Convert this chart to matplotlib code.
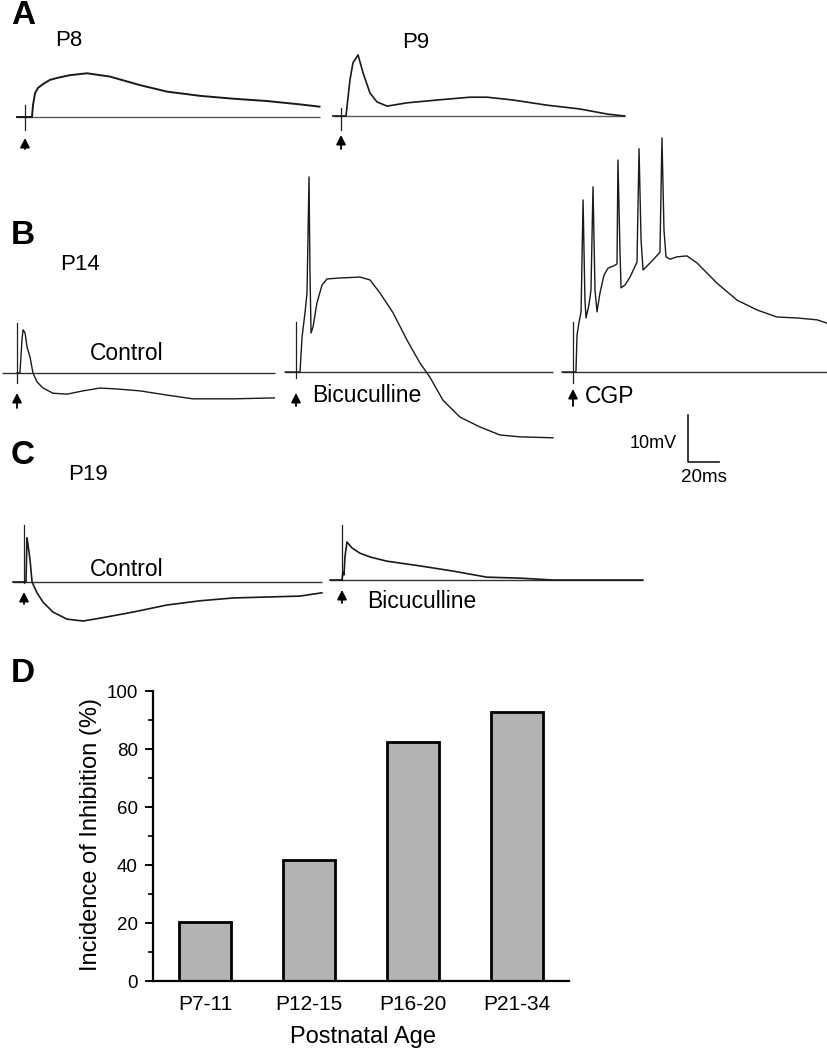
import numpy as np
import matplotlib
matplotlib.use("Agg")
import matplotlib.pyplot as plt
from matplotlib.ticker import MultipleLocator

plt.rcParams['font.family'] = ['Liberation Sans', 'DejaVu Sans']

# ---------------- data ----------------
# Traces: time (ms after stimulus) and potential (mV relative to rest)
p8_t = [-5.2, 0, 4.5, 5.2, 6.5, 8.4, 11.6, 16.1, 20.6, 29.0, 40.0, 54.8, 74.0, 91.6, 113, 134, 156, 177, 190]
p8_v = [0, 0, 0, 2.6, 5.1, 6.2, 7.0, 7.9, 8.3, 8.9, 9.3, 8.6, 6.8, 5.4, 4.5, 3.9, 3.4, 2.7, 2.2]

p9_t = [-5.2, 0, 3.2, 5.8, 7.7, 11.0, 14.2, 18.7, 23.2, 29.7, 42.6, 61.9, 83.2, 94.2, 111, 133, 154, 172, 183]
p9_v = [0, 0, 0, 7.7, 11.3, 13.0, 9.2, 4.9, 3.0, 2.1, 2.8, 3.4, 4.0, 4.0, 3.4, 2.3, 1.5, 0.4, 0]

p14_ctrl_t = [0, 1.9, 3.2, 3.9, 5.2, 6.5, 8.4, 10.3, 12.9, 16.8, 23.2, 32.3, 42.6, 53.5, 64.5, 79.3, 96.8, 113.5, 139, 166]
p14_ctrl_v = [0, 0, 7.0, 9.2, 8.5, 5.5, 3.4, 0, -1.9, -3.2, -4.3, -4.5, -3.8, -3.2, -3.4, -3.8, -4.7, -5.5, -5.5, -5.3]

p14_bic_t = [-7.1, 0, 2.6, 3.9, 5.8, 7.1, 8.4, 9.0, 9.7, 11.0, 13.5, 16.8, 20.0, 28.4, 41.3, 47.7, 54.2,
             62.6, 71.6, 80.0, 86.4, 94.8, 105.8, 118.7, 131.6, 144.5, 165.8]
p14_bic_v = [0, 0, 0, 7.4, 12.6, 16.8, 41.5, 21.7, 8.3, 9.6, 14.7, 18.5, 19.8, 20.0, 20.2, 19.6, 16.8,
             12.6, 6.8, 1.9, -1.1, -6.0, -9.6, -11.7, -13.4, -13.8, -14.0]

p14_cgp_t = [-7.1, 0, 1.9, 2.6, 3.9, 5.2, 6.5, 7.7, 8.4, 10.3, 11.6, 12.9, 14.2, 15.5, 17.4, 20.0, 22.6,
             26.4, 28.4, 29.0, 30.3, 31.0, 33.5, 36.8, 41.3, 42.6, 43.9, 45.2, 49.7, 52.9, 56.1, 57.4,
             58.7, 60.0, 62.6, 67.1, 73.5, 80.0, 92.9, 105.8, 118.7, 131.6, 144.5, 157.4, 163.8]
p14_cgp_v = [0, 0, 0, 7.9, 10.6, 12.8, 36.6, 15.3, 11.5, 14.3, 17.4, 39.4, 17.4, 12.8, 16.8, 20.6, 22.1,
             22.6, 23.0, 45.1, 25.9, 17.9, 18.5, 20.2, 23.4, 47.5, 28.1, 21.7, 23.2, 24.3, 25.5, 49.8,
             30.2, 24.5, 24.0, 24.5, 24.7, 23.2, 18.9, 15.3, 13.2, 11.7, 11.5, 11.1, 10.4]

p19_ctrl_t = [-7.1, 0, 1.3, 1.9, 2.6, 3.9, 5.2, 8.4, 12.3, 18.7, 27.7, 38.1, 49.0, 70.3, 92.2, 113.5,
              134.8, 156.1, 178, 192.2]
p19_ctrl_v = [0, 0, 0, 9.4, 7.9, 4.7, 0, -2.3, -4.3, -6.4, -7.9, -8.3, -7.7, -6.4, -4.9, -4.0,
              -3.4, -3.2, -3.0, -2.3]

p19_bic_t = [-7.7, 0, 0.6, 1.3, 1.9, 3.2, 6.5, 11.6, 18.1, 29.0, 50.3, 71.6, 93.5, 114.8, 136, 194]
p19_bic_v = [0, 0, 1.7, 1.1, 4.9, 8.1, 6.8, 5.7, 4.9, 4.0, 3.0, 1.9, 0.6, 0.4, 0, 0]

# stimulus artifacts (top, bottom) in mV
artifacts = [(2.6, -2.8), (1.7, -3.0), (10.6, -2.1), (10.6, -1.3), (10.6, -2.3), (12.1, -0.3), (11.7, 0.0)]
# baseline extents (ms)
baselines = [(-5.2, 190), (-5.2, 183), (-9.7, 166.4), (-7.1, 165.8), (-7.1, 163.8), (-7.1, 192.2), (-7.7, 194)]

scale_mv = 10
scale_ms = 20

ages = ['P7-11', 'P12-15', 'P16-20', 'P21-34']
incidence = [20.5, 41.7, 82.5, 92.8]

# ---------------- layout ----------------
W, H = 827, 1050
MS_PER_PX = 20 / 31
MV_PER_PX = 10 / 47

fig = plt.figure(figsize=(W / 100, H / 100), dpi=100)
fig.patch.set_facecolor('white')

ax = fig.add_axes([0, 0, 1, 1])
ax.set_xlim(0, W * MS_PER_PX)
ax.set_ylim(0, H * MV_PER_PX)
ax.axis('off')


def org(xp, yp):
    return xp * MS_PER_PX, (H - yp) * MV_PER_PX


traces = [(p8_t, p8_v), (p9_t, p9_v), (p14_ctrl_t, p14_ctrl_v), (p14_bic_t, p14_bic_v),
          (p14_cgp_t, p14_cgp_v), (p19_ctrl_t, p19_ctrl_v), (p19_bic_t, p19_bic_v)]
origins = [(25, 117), (341, 116), (17, 373), (296, 372), (573, 372), (24, 582), (342, 580)]
arrows = [(138, 149), (135, 149), (393, 408), (393, 406), (389, 406), (592, 604), (590, 603)]
lws = [1.4, 1.2, 1.0, 1.0, 1.0, 1.2, 1.2]
base_cols = ['#5a5a5a', '#5a5a5a', '#333333', '#333333', '#333333', '#333333', '#333333']

for (t, v), (xp, yp), (a_top, a_bot), (b0, b1), (tip, tail), lw, bc in zip(
        traces, origins, artifacts, baselines, arrows, lws, base_cols):
    ox, oy = org(xp, yp)
    ax.plot([ox + b0, ox + b1], [oy, oy], color=bc, lw=1.0, solid_capstyle='butt')
    ax.plot([ox, ox], [oy + a_bot, oy + a_top], color='#222222', lw=0.9)
    ax.plot(ox + np.array(t), oy + np.array(v), color='#1a1a1a', lw=lw, solid_joinstyle='round')
    _, ytip = org(xp, tip)
    _, ytail = org(xp, tail)
    ax.annotate('', xy=(ox, ytip), xytext=(ox, ytail),
                arrowprops=dict(arrowstyle='-|>,head_length=0.55,head_width=0.28', color='k', lw=1.3,
                                shrinkA=0, shrinkB=0))

# scale bar
sx, sy = org(688, 462)
ax.plot([sx, sx, sx + scale_ms], [sy + scale_mv, sy, sy], color='#1a1a1a', lw=1.2)


def ftext(xp, yp, s, size, **kw):
    fig.text(xp / W, 1 - yp / H, s, fontsize=size, **kw)


ftext(677, 443, '10mV', 13, ha='right', va='center')
ftext(704, 478, '20ms', 13.5, ha='center', va='center')

# panel letters
for letter, yp in [('A', 15), ('B', 235), ('C', 455), ('D', 673)]:
    ftext(11, yp, letter, 24, weight='bold', ha='left', va='center')

ftext(55, 41, 'P8', 16, ha='left', va='center')
ftext(402, 42, 'P9', 16, ha='left', va='center')
ftext(60, 265, 'P14', 16, ha='left', va='center')
ftext(68, 475, 'P19', 16, ha='left', va='center')
ftext(90, 353, 'Control', 16.5, ha='left', va='center')
ftext(312, 395, 'Bicuculline', 16.5, ha='left', va='center')
ftext(585, 396, 'CGP', 16.5, ha='left', va='center')
ftext(90, 570, 'Control', 16.5, ha='left', va='center')
ftext(367, 602, 'Bicuculline', 16.5, ha='left', va='center')

# ---------------- bar chart ----------------
L, R, T, B = 153, 569, 691, 981
bx = fig.add_axes([L / W, 1 - B / H, (R - L) / W, (B - T) / H])
bx.set_facecolor('none')
bx.bar(range(len(ages)), incidence, width=0.5, color='#b3b3b3', edgecolor='black', linewidth=2.0)
bx.set_xlim(-0.5, 3.5)
bx.set_ylim(0, 100)
bx.spines['top'].set_visible(False)
bx.spines['right'].set_visible(False)
bx.spines['left'].set_linewidth(1.6)
bx.spines['bottom'].set_linewidth(1.6)
bx.set_xticks(range(len(ages)))
bx.set_xticklabels(ages, fontsize=15)
bx.tick_params(axis='x', length=0, pad=10)
bx.yaxis.set_major_locator(MultipleLocator(20))
bx.yaxis.set_minor_locator(MultipleLocator(10))
bx.tick_params(axis='y', which='major', length=6, width=1.4, labelsize=13.5, pad=5)
bx.tick_params(axis='y', which='minor', length=3.5, width=1.2)
bx.set_ylabel('Incidence of Inhibition (%)', fontsize=17)
bx.yaxis.set_label_coords(-0.122, 0.505)
bx.set_xlabel('Postnatal Age', fontsize=17)
bx.xaxis.set_label_coords(0.504, -0.155)

fig.savefig('out.png', dpi=100, facecolor='white')
